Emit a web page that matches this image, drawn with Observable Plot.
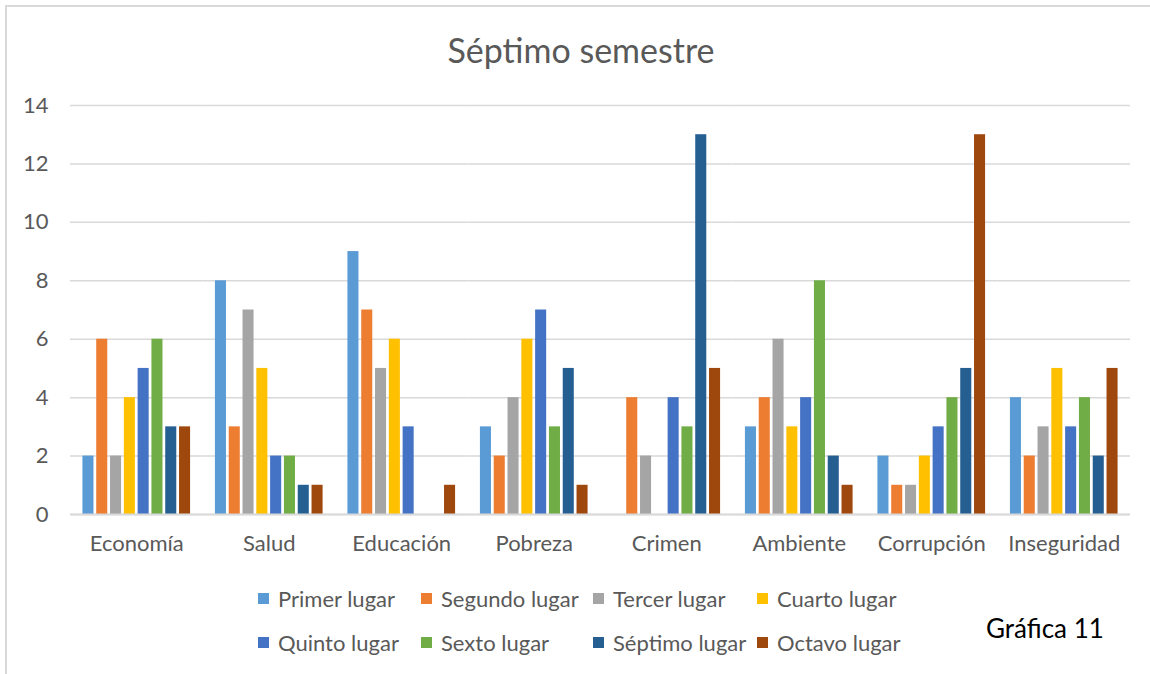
<!DOCTYPE html>
<html>
<head>
<meta charset="utf-8">
<script src="https://cdn.jsdelivr.net/npm/d3@7"></script>
<script src="https://cdn.jsdelivr.net/npm/@observablehq/plot@0.6"></script>
<style>
  html, body { margin: 0; padding: 0; background: #fff; }
  #wrap { position: relative; width: 1150px; height: 674px; overflow: hidden; font-family: Lato, "Open Sans", sans-serif; }
  #frame { position: absolute; left: 5px; top: 5px; width: 1200px; height: 700px; border-top: 2px solid #d9d9d9; border-left: 2px solid #d9d9d9; box-sizing: border-box; }
  #title { position: absolute; left: 0; width: 1162px; top: 28px; text-align: center; font-size: 34px; color: #595959; line-height: 44px; }
  #chart { position: absolute; left: 0; top: 80px; }
  #legend { position: absolute; left: 258px; top: 582px; display: grid; grid-template-columns: 163px 172px 164px 160px; row-gap: 12px; }
  .item { display: flex; align-items: center; font-size: 22px; color: #595959; height: 32px; white-space: nowrap; }
  .sw { width: 11px; height: 11px; margin-right: 9px; flex: none; }
  #cap { position: absolute; left: 986px; top: 612px; font-size: 26px; color: #000; line-height: 32px; }
</style>
</head>
<body>
<div id="wrap">
  <div id="frame"></div>
  <div id="title">Séptimo semestre</div>
  <div id="chart"></div>
  <div id="legend"></div>
  <div id="cap">Gráfica 11</div>
</div>
<script>
const categories = ["Economía", "Salud", "Educación", "Pobreza", "Crimen", "Ambiente", "Corrupción", "Inseguridad"];
const series = ["Primer lugar", "Segundo lugar", "Tercer lugar", "Cuarto lugar", "Quinto lugar", "Sexto lugar", "Séptimo lugar", "Octavo lugar"];
const colors = ["#5B9BD5", "#ED7D31", "#A5A5A5", "#FFC000", "#4472C4", "#70AD47", "#255E91", "#9E480E"];
const yTicks = [0, 2, 4, 6, 8, 10, 12, 14];

const primer  = [2, 8, 9, 3, 0, 3, 2, 4];
const segundo = [6, 3, 7, 2, 4, 4, 1, 2];
const tercer  = [2, 7, 5, 4, 2, 6, 1, 3];
const cuarto  = [4, 5, 6, 6, 0, 3, 2, 5];
const quinto  = [5, 2, 3, 7, 4, 4, 3, 3];
const sexto   = [6, 2, 0, 3, 3, 8, 4, 4];
const septimo = [3, 1, 0, 5, 13, 2, 5, 2];
const octavo  = [3, 1, 1, 1, 5, 1, 13, 5];

const valuesBySeries = [primer, segundo, tercer, cuarto, quinto, sexto, septimo, octavo];
const data = [];
categories.forEach((c, ci) => {
  series.forEach((s, si) => {
    data.push({category: c, series: s, value: valuesBySeries[si][ci]});
  });
});

const chart = Plot.plot({
  width: 1150,
  height: 500,
  marginLeft: 70,
  marginRight: 20,
  marginTop: 25,
  marginBottom: 66,
  style: {fontFamily: "Lato, 'Open Sans', sans-serif", fontSize: "22px", color: "#595959", background: "transparent"},
  fx: {domain: categories, padding: 0, round: false, label: null, axis: "bottom", tickSize: 0, tickPadding: 21},
  x: {domain: series, paddingInner: 0.2, paddingOuter: 0.9, round: false, axis: null},
  y: {domain: [0, 14], ticks: yTicks, label: null, tickSize: 0, tickPadding: 22},
  color: {domain: series, range: colors},
  marks: [
    Plot.gridY(yTicks, {stroke: "#d9d9d9", strokeOpacity: 1, strokeWidth: 1.5}),
    Plot.barY(data, {fx: "category", x: "series", y: "value", fill: "series"}),
    Plot.ruleY([0], {stroke: "#d9d9d9", strokeWidth: 2})
  ]
});
document.getElementById("chart").appendChild(chart);

const legend = document.getElementById("legend");
series.forEach((s, i) => {
  const it = document.createElement("div");
  it.className = "item";
  const sw = document.createElement("span");
  sw.className = "sw";
  sw.style.background = colors[i];
  it.appendChild(sw);
  it.appendChild(document.createTextNode(s));
  legend.appendChild(it);
});
</script>
</body>
</html>
